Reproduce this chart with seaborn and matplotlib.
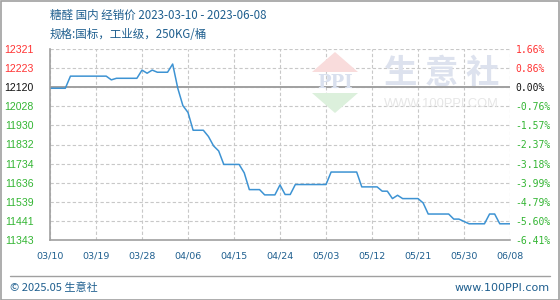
import numpy as np
import pandas as pd
import matplotlib
matplotlib.use("Agg")
import matplotlib.pyplot as plt
from matplotlib.patches import Polygon
import seaborn as sns

# ---- data ----
dates = pd.date_range("2023-03-10", "2023-06-08", freq="D")
prices = (
    [12120] * 4 + [12182] * 8 + [12163] + [12171] * 5 + [12213, 12197, 12213]
    + [12202] * 3 + [12244, 12120, 12031, 11996] + [11905] * 3
    + [11873, 11825, 11799] + [11730] * 4 + [11687] + [11601] * 3
    + [11574] * 3 + [11625] + [11576] * 2 + [11627] * 7 + [11691] * 6
    + [11615] * 4 + [11593] * 2 + [11555, 11572] + [11555] * 4 + [11533]
    + [11476] * 5 + [11450] * 2 + [11438] + [11426] * 4 + [11476] * 2
    + [11426] * 3
)
ytick_labels = ["11343", "11441", "11539", "11636", "11734", "11832", "11930",
                "12028", "12120", "12223", "12321"]
pct_labels = ["-6.41%", "-5.60%", "-4.79%", "-3.99%", "-3.18%", "-2.37%", "-1.57%",
              "-0.76%", "0.00%", "0.86%", "1.66%"]
xtick_labels = ["03/10", "03/19", "03/28", "04/06", "04/15", "04/24",
                "05/03", "05/12", "05/21", "05/30", "06/08"]
title = "糖醛 国内 经销价 2023-03-10 - 2023-06-08"
subtitle = "规格:国标，工业级，250KG/桶"

df = pd.DataFrame({"day": np.arange(len(prices)), "price": prices})

sns.set_theme(style="white")
plt.rcParams["font.family"] = ["Noto Sans CJK SC", "DejaVu Sans"]

fig = plt.figure(figsize=(5.6, 3.0), dpi=100)
ax = fig.add_axes([50 / 560, 1 - 240 / 300, 460 / 560, 191 / 300])

sns.lineplot(data=df, x="day", y="price", ax=ax, color="#3d93d3", linewidth=1.1)

ymin, ymax = 11343, 12321
ax.set_xlim(0, 90)
ax.set_ylim(ymin, ymax)
yt = np.linspace(ymin, ymax, 11)
ax.set_yticks(yt)
ax.set_yticklabels(ytick_labels)
ax.set_xticks(np.arange(0, 91, 9))
ax.set_xticklabels(xtick_labels)
ax.set_xlabel("")
ax.set_ylabel("")

ax.grid(True, color="#c8c8c8", linestyle=(0, (3, 2)), linewidth=0.8)
ax.axhline(yt[8], color="#a0a0a0", linewidth=1.4, zorder=1)
for s in ["top", "right"]:
    ax.spines[s].set_visible(False)
for s in ["left", "bottom"]:
    ax.spines[s].set_color("#a0a0a0")
    ax.spines[s].set_linewidth(1.2)

ax.tick_params(axis="both", length=0)
ax.tick_params(axis="y", pad=12)
ax.tick_params(axis="x", pad=8)

def color_for(i):
    if i > 8:
        return "#ff3333"
    if i == 8:
        return "#111111"
    return "#33b533"

for i, lab in enumerate(ax.get_yticklabels()):
    lab.set_color(color_for(i))
    lab.set_fontfamily("Liberation Sans")
    lab.set_fontsize(7.6)
for lab in ax.get_xticklabels():
    lab.set_color("#1f5f8f")
    lab.set_fontfamily("DejaVu Sans")
    lab.set_fontsize(6.8)

ax2 = ax.twinx()
ax2.set_ylim(ymin, ymax)
ax2.set_yticks(yt)
ax2.set_yticklabels(pct_labels)
ax2.tick_params(axis="y", length=0, pad=4)
for s in ax2.spines.values():
    s.set_visible(False)
for i, lab in enumerate(ax2.get_yticklabels()):
    lab.set_color(color_for(i))
    lab.set_fontfamily("DejaVu Sans Mono")
    lab.set_fontsize(7)
ax2.grid(False)

# watermark
fig.patches.append(Polygon([[312, 300 - 72], [358, 300 - 72], [335, 300 - 52]],
                           closed=True, transform=None, facecolor="#f9dcdc",
                           edgecolor="none", zorder=0.5))
fig.patches.append(Polygon([[312, 300 - 93], [358, 300 - 93], [335, 300 - 113]],
                           closed=True, transform=None, facecolor="#dcf0dc",
                           edgecolor="none", zorder=0.5))
fig.text(335 / 560, 1 - 83 / 300, "PPI", color="#d9e0ee", fontsize=13,
         fontweight="bold", ha="center", va="center", family="DejaVu Serif", zorder=0.5)
fig.text(384 / 560, 1 - 73 / 300, "生 意 社", color="#dde2ee", fontsize=24,
         ha="left", va="center", fontweight="bold", zorder=0.5)
fig.text(384 / 560, 1 - 104 / 300, "WWW.100PPI.COM", color="#e6e6e6", fontsize=9.3,
         ha="left", va="center", family="Liberation Sans", zorder=0.5)

# titles
fig.text(50 / 560, 1 - 15 / 300, title, color="#1f5f8f", fontsize=8.3,
         ha="left", va="center")
fig.text(50 / 560, 1 - 34 / 300, subtitle, color="#1f5f8f", fontsize=8.3,
         ha="left", va="center")

# footer
fig.add_artist(plt.Line2D([10 / 560, 550 / 560], [1 - 276 / 300, 1 - 276 / 300],
                          color="#a0a0a0", linewidth=1))
fig.text(10 / 560, 1 - 288 / 300, "© 2025.05 生意社", color="#1f5f8f", fontsize=8,
         ha="left", va="center")
fig.text(550 / 560, 1 - 288 / 300, "www.100PPI.com", color="#1f5f8f", fontsize=8,
         ha="right", va="center", family="DejaVu Sans")
fig.add_artist(plt.Rectangle((0.5 / 560, 0.5 / 300), 558.5 / 560, 298.5 / 300,
                             fill=False, edgecolor="#a0a0a0", linewidth=1.2,
                             transform=fig.transFigure))

fig.savefig("out.png", dpi=100)
